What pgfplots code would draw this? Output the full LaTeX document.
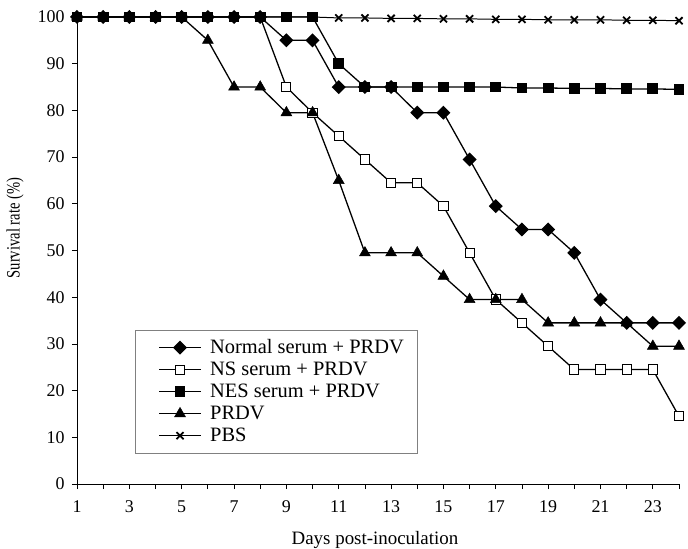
\documentclass[border=0pt]{standalone}
\usepackage{fontspec}
\setmainfont{Liberation Serif}
\usepackage{graphicx}
\usepackage{pgfplots}
\pgfplotsset{compat=1.18}
\begin{document}
\begin{tikzpicture}
\begin{axis}[
  scale only axis,
  width=602bp, height=467bp,
  xmin=1, xmax=24, ymin=0, ymax=100,
  axis x line*=bottom, axis y line*=left,
  axis line style={black, line width=0.8pt, -},
  xtick={1,3,...,23}, minor xtick={2,4,...,24},
  ytick={0,10,...,100},
  tick align=outside,
  major tick length=5bp, minor tick length=5bp,
  tick style={black, line width=0.8pt},
  /pgf/number format/assume math mode=true,
  tick label style={font=\fontsize{18}{20}\selectfont},
  xticklabel style={yshift=-8bp},
  yticklabel style={xshift=-4bp},
  xlabel={Days post-inoculation},
  ylabel={\scalebox{0.77}[1]{Survival rate (\%)}},
  every axis x label/.style={at={(axis description cs:0.495,-0.12)}, anchor=center, font=\fontsize{19}{22}\selectfont},
  every axis y label/.style={at={(axis description cs:-0.103,0.548)}, anchor=center, rotate=90, font=\fontsize{19}{22}\selectfont},
  clip=false,
  legend style={at={(0.0965,0.33)}, anchor=north west, draw=gray, line width=0.6pt,
    font=\fontsize{20.5}{23}\selectfont, inner xsep=13bp, inner ysep=7bp,
    nodes={inner sep=0.5bp, text height=16bp, text depth=4bp},
    row sep=1bp, column sep=8bp, cells={anchor=west}},
  legend cell align=left,
  legend image code/.code={\path (0bp,0bp); \draw[mark repeat=2,mark phase=2] plot coordinates {(10bp,0bp)(31bp,0bp)(52bp,0bp)};},
  every axis plot/.append style={black, line width=1.3pt},
]
\coordinate (O) at (rel axis cs:0,0);
\addplot[mark=square*, mark size=4.3bp, mark options={rotate=45, fill=black}] coordinates {
(1,100)(2,100)(3,100)(4,100)(5,100)(6,100)(7,100)(8,100)(9,95)(10,95)(11,85)(12,85)(13,85)(14,79.5)(15,79.5)(16,69.5)(17,59.5)(18,54.5)(19,54.5)(20,49.5)(21,39.5)(22,34.5)(23,34.5)(24,34.5)};
\addlegendentry{Normal serum + PRDV}
\addplot[mark=square*, mark size=4.6bp, mark options={fill=white, line width=1pt}] coordinates {
(1,100)(2,100)(3,100)(4,100)(5,100)(6,100)(7,100)(8,100)(9,85)(10,79.5)(11,74.5)(12,69.5)(13,64.5)(14,64.5)(15,59.5)(16,49.5)(17,39.5)(18,34.5)(19,29.5)(20,24.5)(21,24.5)(22,24.5)(23,24.5)(24,14.5)};
\addlegendentry{NS serum + PRDV}
\addplot[mark=square*, mark size=4.8bp, mark options={fill=black}] coordinates {
(1,100)(2,100)(3,100)(4,100)(5,100)(6,100)(7,100)(8,100)(9,100)(10,100)(11,90)(12,85)(13,85)(14,85)(15,85)(16,85)(17,85)(18,84.8)(19,84.8)(20,84.7)(21,84.7)(22,84.6)(23,84.6)(24,84.5)};
\addlegendentry{NES serum + PRDV}
\addplot[mark=triangle*, mark size=6.3bp, mark options={fill=black, line width=0.5pt}] coordinates {
(1,100)(2,100)(3,100)(4,100)(5,100)(6,95)(7,85)(8,85)(9,79.5)(10,79.5)(11,65)(12,49.5)(13,49.5)(14,49.5)(15,44.5)(16,39.5)(17,39.5)(18,39.5)(19,34.5)(20,34.5)(21,34.5)(22,34.5)(23,29.5)(24,29.5)};
\addlegendentry{PRDV}
\addplot[mark=x, mark size=5bp, line width=1pt, mark options={line width=1.8pt}] coordinates {
(1,100)(2,100)(3,100)(4,100)(5,100)(6,100)(7,100)(8,100)(9,100)(10,100)(11,99.8)(12,99.8)(13,99.7)(14,99.7)(15,99.6)(16,99.6)(17,99.5)(18,99.5)(19,99.4)(20,99.4)(21,99.4)(22,99.3)(23,99.3)(24,99.2)};
\addlegendentry{PBS}
\end{axis}
\pgfresetboundingbox
\useasboundingbox ([xshift=-77bp,yshift=-65bp]O) rectangle ([xshift=611bp,yshift=484bp]O);
\end{tikzpicture}
\end{document}
